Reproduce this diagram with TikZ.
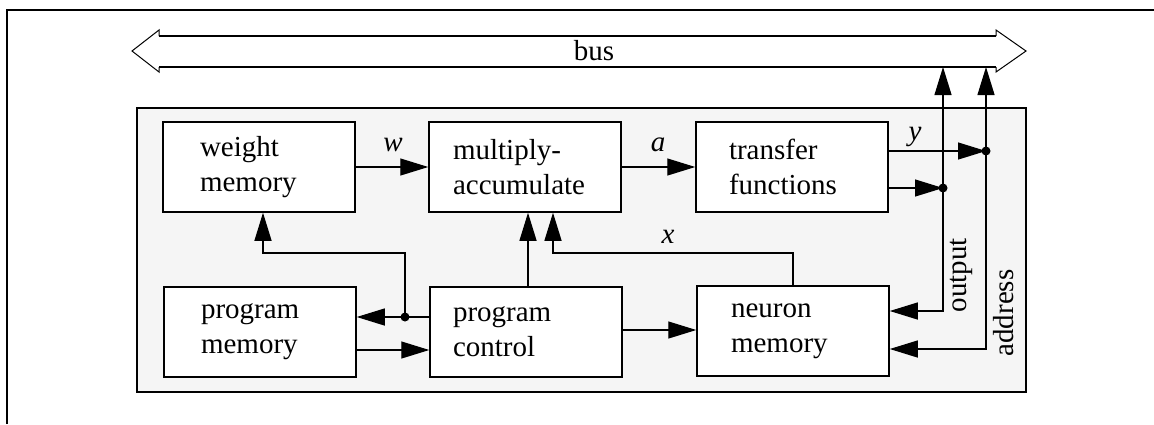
\documentclass[tikz,border=0pt]{standalone}
\usepackage{fontspec}
\setmainfont{Liberation Serif}
\usetikzlibrary{arrows.meta}
\tikzset{
  box/.style={draw, fill=white, line width=0.75pt, minimum height=45pt, align=left, inner ysep=0pt},
  arr/.style={-{Triangle[length=14pt,width=8.5pt]}, line width=0.6pt},
  lbl/.style={font=\fontsize{14.5}{17.5}\selectfont\itshape, inner sep=0pt},
  dot/.style={circle, fill, inner sep=0pt, minimum size=4.5pt}
}
\begin{document}
\begin{tikzpicture}[x=0.5pt, y=-0.5pt, font=\fontsize{14.5}{17.5}\selectfont]
\useasboundingbox (0,0) rectangle (1154,424);
\draw [line width=1pt](7,424) -- (7,10) -- (1154,10);
\draw [fill=black!4, line width=0.75pt](137,108) rectangle (1026,392);
\coordinate (bl) at (132,51);
\coordinate (br) at (1026,51);
\draw [line width=0.5pt](159,36) -- (159,30) -- (bl) -- (159,72) -- (159,67);
\draw [line width=0.5pt](996,36) -- (996,30) -- (br) -- (996,72) -- (996,67);
\draw [line width=1pt](159,36) -- (996,36);
\draw [line width=1pt](159,67) -- (996,67);
\node (bus) at (594,51) {bus};
\node [box, text width=59pt, inner xsep=18.5pt] (wmem) at (259,167) {weight\\memory};
\node [box, text width=72pt, inner xsep=12pt] (mac) at (525,167) {multiply-\\accumulate};
\node [box, text width=63pt, inner xsep=16.5pt] (tf) at (792,167) {transfer\\functions};
\node [box, text width=59pt, inner xsep=18.5pt] (pmem) at (260,332) {program\\memory};
\node [box, text width=73pt, inner xsep=11.5pt] (pctl) at (526,332) {program\\control};
\node [box, text width=62pt, inner xsep=17pt] (nmem) at (793,331) {neuron\\memory};
\draw [arr](wmem.east) -- (mac.west);
\node [lbl] at (393,145) {w};
\draw [arr](mac.east) -- (tf.west);
\node [lbl] at (658,145) {a};
\node [dot] (ydot) at (986,151) {};
\node [dot] (odot) at (943,188) {};
\node [dot] (pdot) at (405,317) {};
\draw [arr](tf.east |- ydot) -- (ydot.center);
\node [lbl] at (915,137) {y};
\draw [arr](tf.east |- odot) -- (odot.center);
\coordinate (obus) at (943,67);
\coordinate (abus) at (986,67);
\coordinate (oin) at (943,311);
\coordinate (ain) at (986,349);
\draw [arr](odot.center) -- (obus);
\draw [arr](ydot.center) -- (abus);
\draw [arr](odot.center) -- (oin) -- (nmem.east |- oin);
\draw [arr](ydot.center) -- (ain) -- (nmem.east |- ain);
\node [rotate=90] at (961,275) {output};
\node [rotate=90] at (1004,313) {address};
\draw [arr](pctl.west |- pdot) -- (pmem.east |- pdot);
\coordinate (wturn) at (263,253);
\draw [arr](pdot.center) -- (pdot |- wturn) -- (wturn) -- (wmem.south -| wturn);
\coordinate (pmout) at (0,350);
\draw [arr](pmem.east |- pmout) -- (pctl.west |- pmout);
\coordinate (pcup) at (528,0);
\draw [arr](pctl.north -| pcup) -- (mac.south -| pcup);
\coordinate (xin) at (553,253);
\draw [arr](nmem.north) -- (nmem.north |- xin) -- (xin) -- (mac.south -| xin);
\node [lbl] at (668,237) {x};
\draw [arr](pctl.east |- 0,330) -- (nmem.west |- 0,330);
\end{tikzpicture}
\end{document}
